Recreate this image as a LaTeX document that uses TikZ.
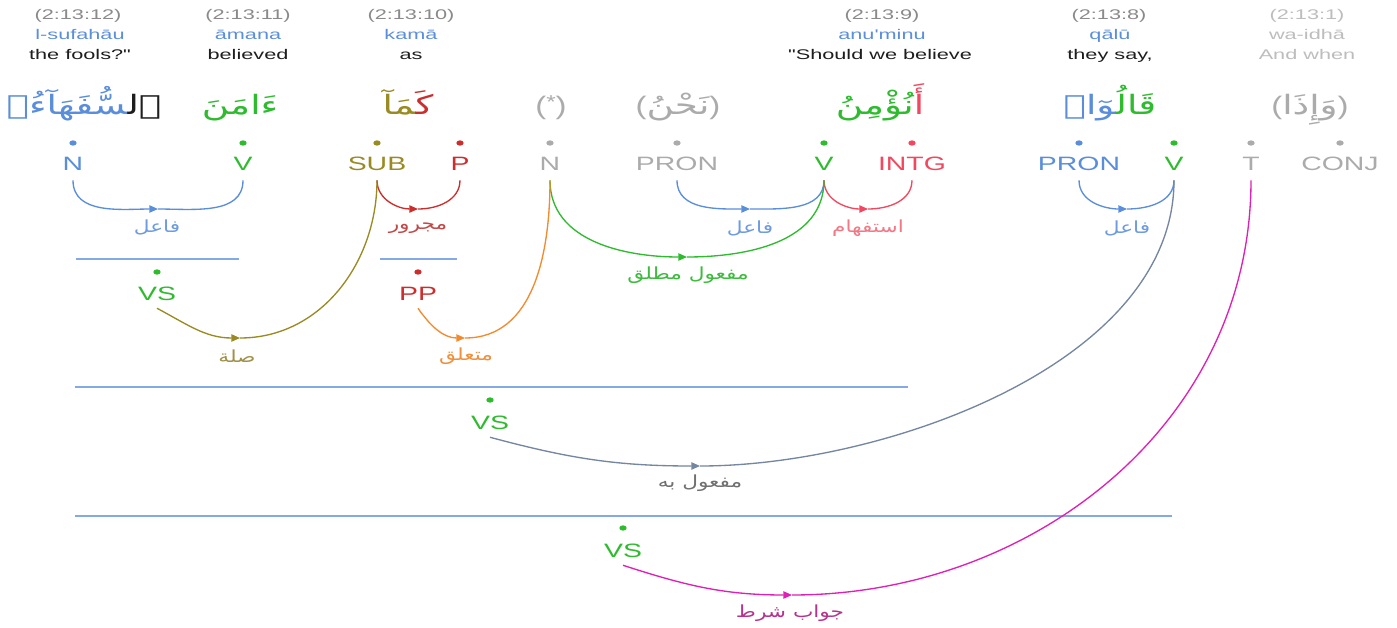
\documentclass[tikz,border=0pt]{standalone}
\usepackage{fontspec}
\usetikzlibrary{arrows.meta,shapes.geometric}
\setmainfont{Liberation Sans}
\newfontfamily\hdrfont{Liberation Sans}[FakeStretch=1.55]
\newfontfamily\tagfont{Liberation Sans}[FakeStretch=1.47]
\newfontfamily\parenfont{Liberation Sans}[FakeStretch=1.3]
\newfontfamily\arabicfont[Script=Arabic,FakeStretch=1.4]{DejaVu Sans}
\newfontfamily\arlblfont[Script=Arabic,FakeStretch=1.3]{DejaVu Sans}
\TeXXeTstate=1

\definecolor{locgray}{HTML}{8A8A8A}
\definecolor{trblue}{HTML}{5B8FDC}
\definecolor{engtxt}{HTML}{1E1E1E}
\definecolor{faint}{HTML}{BDBDBD}
\definecolor{nblue}{HTML}{5A8EDB}
\definecolor{vgreen}{HTML}{2EBB2E}
\definecolor{subolive}{HTML}{998A22}
\definecolor{pred}{HTML}{CC2E2E}
\definecolor{intgred}{HTML}{F2475E}
\definecolor{ngray}{HTML}{ABABAB}
\definecolor{orng}{HTML}{F28A2E}
\definecolor{slate}{HTML}{7486A0}
\definecolor{magen}{HTML}{E01FB5}
\definecolor{rulec}{HTML}{85A9E8}
\definecolor{lblblue}{HTML}{6E9BE0}
\definecolor{lblred}{HTML}{C24848}
\definecolor{lblpink}{HTML}{F27886}
\definecolor{lblgreen}{HTML}{3CBB3C}
\definecolor{lblolive}{HTML}{A0914A}
\definecolor{lblorange}{HTML}{F0903C}
\definecolor{lblgray}{HTML}{707070}
\definecolor{lblmagenta}{HTML}{B5338C}

% one right-to-left run
\newcommand{\ar}[1]{\beginR#1\endR}
% a coloured right-to-left piece of a word
\newcommand{\seg}[2]{{\color{#1}\ar{#2}}}
% Latin brackets round a bracketed Arabic word
\newcommand{\lpar}{{\parenfont\fontsize{19}{22}\selectfont(}}
\newcommand{\rpar}{{\parenfont\fontsize{19}{22}\selectfont)}}

\begin{document}
\begin{tikzpicture}[x=0.75pt,y=-0.75pt,
  loc/.style={font=\hdrfont\fontsize{10.5}{12}\selectfont, text=locgray, inner sep=0, anchor=base},
  translit/.style={font=\hdrfont\fontsize{10.5}{12}\selectfont, text=trblue, inner sep=0, anchor=base},
  transl/.style={font=\hdrfont\fontsize{10.5}{12}\selectfont, text=engtxt, inner sep=0, anchor=base},
  word/.style={font=\arabicfont\fontsize{20}{24}\selectfont, inner sep=0, anchor=base},
  tag/.style={font=\tagfont\fontsize{14.5}{16}\selectfont, inner sep=0, anchor=base, text depth=7.5pt},
  dot/.style={ellipse, minimum width=5.5pt, minimum height=4pt, inner sep=0, draw=none},
  lbl/.style={font=\arlblfont\fontsize{12.5}{14}\selectfont, inner sep=0},
  link/.style={line width=1pt},
  tip/.style={-{Triangle[length=6.5pt,width=5.5pt]}},
  rule/.style={draw=rulec, line width=1.1pt}]

\fill[white] (0,0) rectangle (1397,628);
\useasboundingbox (0,0) rectangle (1397,628);

% ---- header: location, transliteration, translation ----
\node[loc] (loc12) at (78,20) {(2:13:12)};
\node[translit] (tr12) at (80,40) {l-sufahāu};
\node[transl] (en12) at (80,60) {the fools?"};

\node[loc] (loc11) at (248,20) {(2:13:11)};
\node[translit] (tr11) at (248,40) {āmana};
\node[transl] (en11) at (248,60) {believed};

\node[loc] (loc10) at (411,20) {(2:13:10)};
\node[translit] (tr10) at (411,40) {kamā};
\node[transl] (en10) at (411,60) {as};

\node[loc] (loc9) at (882,20) {(2:13:9)};
\node[translit] (tr9) at (882,40) {anu'minu};
\node[transl] (en9) at (880,60) {"Should we believe};

\node[loc] (loc8) at (1109,20) {(2:13:8)};
\node[translit] (tr8) at (1110,40) {qālū};
\node[transl] (en8) at (1110,60) {they say,};

\node[loc, text=faint] (loc1) at (1307,20) {(2:13:1)};
\node[translit, text=faint] (tr1) at (1307,40) {wa-idhā};
\node[transl, text=faint] (en1) at (1307,60) {And when};

% ---- Arabic words (pieces set left to right, each joined by ZWJ) ----
\node[word] (w12) at (84,114) {\seg{nblue}{^^^^200dسُّفَهَآءُۗ}\seg{engtxt}{ٱل^^^^200d}};
\node[word, text=vgreen] (w11) at (240,114) {\ar{ءَامَنَ}};
\node[word] (w10) at (408,114) {\seg{subolive}{^^^^200dمَآ}\seg{pred}{كَ^^^^200d}};
\node[word, text=ngray] (wstar) at (551,114) {\lpar{\parenfont\fontsize{14}{16}\selectfont\raisebox{4pt}{*}}\rpar};
\node[word, text=ngray] (wpron) at (678,114) {\lpar\ar{نَحْنُ}\rpar};
\node[word] (w9) at (880,114) {\seg{vgreen}{نُؤْمِنُ}\seg{intgred}{أَ}};
\node[word] (w8) at (1110,114) {\seg{nblue}{^^^^200dوٓا۟}\seg{vgreen}{قَالُ^^^^200d}};
\node[word, text=ngray] (w1) at (1310,114) {\lpar\ar{وَإِذَا}\rpar};

% ---- part-of-speech tags and their dots ----
\foreach \nm/\x/\t/\c in {n12/73/N/nblue, v11/243/V/vgreen, sub/377/SUB/subolive,
    p/460/P/pred, nh/550/N/ngray, pr9/677/PRON/ngray, v9/824/V/vgreen,
    intg/912/INTG/intgred, pr8/1079/PRON/nblue, v8/1174/V/vgreen,
    t1/1251/T/ngray, conj/1340/CONJ/ngray}{
  \node[tag, text=\c] (\nm) at (\x,170) {\t};
  \node[dot, fill=\c] (d\nm) at (\x,143) {};
}

% ---- phrase rules and phrase nodes ----
\draw[rule] (76,259) -- (239,259);
\draw[rule] (380,259) -- (457,259);
\draw[rule] (75,387) -- (908,387);
\draw[rule] (75,516) -- (1172,516);

\node[tag, text=vgreen, text depth=6pt] (vs1) at (157,300) {VS};
\node[dot, fill=vgreen] (dvs1) at (157,272) {};
\node[tag, text=pred, text depth=6pt] (pp) at (418,300) {PP};
\node[dot, fill=pred] (dpp) at (418,272) {};
\node[tag, text=vgreen, text depth=6pt] (vs2) at (490,429) {VS};
\node[dot, fill=vgreen] (dvs2) at (490,400) {};
\node[tag, text=vgreen, text depth=6pt] (vs3) at (623,557) {VS};
\node[dot, fill=vgreen] (dvs3) at (623,528) {};

% ---- arc midpoints (arrow positions) ----
\coordinate (m1) at (158,209);
\coordinate (m2) at (418,209);
\coordinate (m3) at (750,209);
\coordinate (m4) at (868,209);
\coordinate (m5) at (687,257);
\coordinate (m6) at (1127,209);
\coordinate (m7) at (240,338);
\coordinate (m8) at (465,338);
\coordinate (m9) at (700,466);
\coordinate (m10) at (792,595);

% ---- dependency arcs ----
\draw[link, nblue, tip] (n12.south) to[out=-90,in=180] (m1);
\draw[link, nblue] (m1) to[out=0,in=-90] (v11.south);
\node[lbl, text=lblblue] (a1) at (157,227) {\ar{فاعل}};

\draw[link, pred, tip] (sub.south) to[out=-90,in=180] (m2);
\draw[link, pred] (m2) to[out=0,in=-90] (p.south);
\node[lbl, text=lblred] (a2) at (418,228) {\ar{مجرور}};

\draw[link, nblue, tip] (pr9.south) to[out=-90,in=180] (m3);
\draw[link, nblue] (m3) to[out=0,in=-90] (v9.south);
\node[lbl, text=lblblue] (a3) at (750,228) {\ar{فاعل}};

\draw[link, intgred, tip] (v9.south) to[out=-90,in=180] (m4);
\draw[link, intgred] (m4) to[out=0,in=-90] (intg.south);
\node[lbl, text=lblpink] (a4) at (868,228) {\ar{استفهام}};

\draw[link, vgreen, tip] (nh.south) to[out=-90,in=180] (m5);
\draw[link, vgreen] (m5) to[out=0,in=-90] (v9.south);
\node[lbl, text=lblgreen] (a5) at (688,275) {\ar{مفعول مطلق}};

\draw[link, nblue, tip] (pr8.south) to[out=-90,in=180] (m6);
\draw[link, nblue] (m6) to[out=0,in=-90] (v8.south);
\node[lbl, text=lblblue] (a6) at (1127,228) {\ar{فاعل}};

\draw[link, subolive, tip] (vs1.south) to[out=-28,in=180] (m7);
\draw[link, subolive] (m7) to[out=0,in=-90] (sub.south);
\node[lbl, text=lblolive] (a7) at (237,356) {\ar{صلة}};

\draw[link, orng, tip] (pp.south) to[out=-55,in=180] (m8);
\draw[link, orng] (m8) to[out=0,in=-90] (nh.south);
\node[lbl, text=lblorange] (a8) at (466,356) {\ar{متعلق}};

\draw[link, slate, tip] (vs2.south) to[out=-15,in=180] (m9);
\draw[link, slate] (m9) to[out=0,in=-90,looseness=0.85] (v8.south);
\node[lbl, text=lblgray] (a9) at (700,483) {\ar{مفعول به}};

\draw[link, magen, tip] (vs3.south) to[out=-18,in=180] (m10);
\draw[link, magen] (m10) to[out=0,in=-90] (t1.south);
\node[lbl, text=lblmagenta] (a10) at (790,613) {\ar{جواب شرط}};

\end{tikzpicture}
\end{document}
